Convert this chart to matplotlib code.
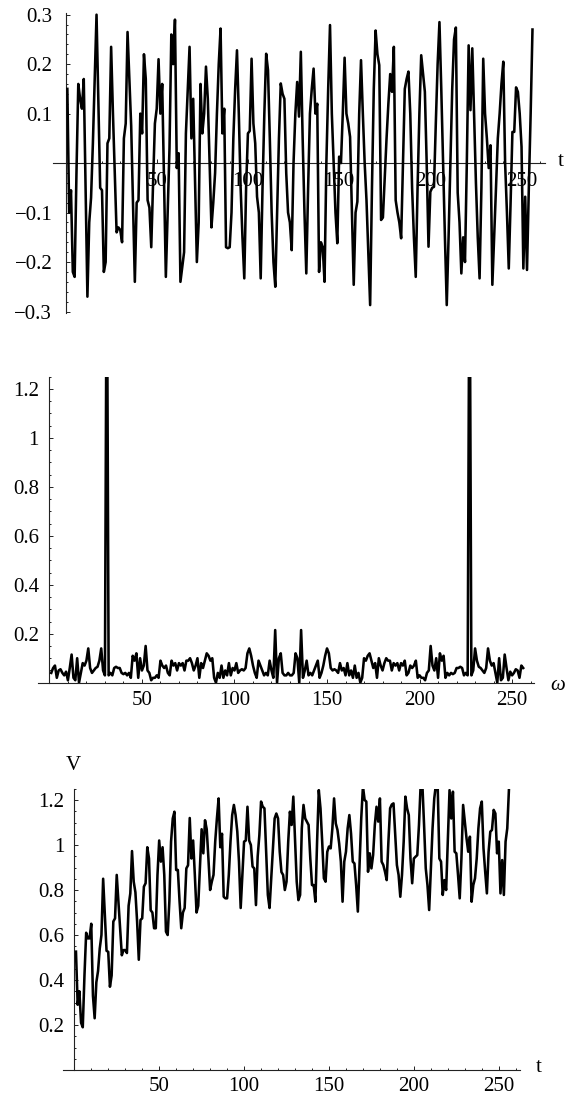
import matplotlib
matplotlib.use("Agg")
import matplotlib.pyplot as plt
from matplotlib.ticker import MultipleLocator

plt.rcParams['font.family'] = ['Liberation Serif', 'DejaVu Serif']

# ---------------- data ----------------
# panel 1: signal x(t), t = 1..256
signal = [
    0.15, -0.10, -0.055, -0.22, -0.23, -0.02, 0.16, 0.13, 0.11, 0.17,
    -0.05, -0.27, -0.12, -0.07, 0.04, 0.17, 0.30, 0.12, -0.05, -0.055,
    -0.22, -0.20, 0.04, 0.05, 0.235, 0.10, -0.02, -0.14, -0.13, -0.135,
    -0.16, 0.05, 0.08, 0.265, 0.17, 0.075, -0.08, -0.24, -0.08, -0.075,
    0.10, 0.06, 0.22, 0.17, -0.075, -0.09, -0.17, -0.04, 0.08, 0.11,
    0.21, 0.10, 0.16, -0.03, -0.23, -0.10, 0.03, 0.26, 0.20, 0.29,
    -0.01, 0.02, -0.24, -0.21, -0.18, 0.06, 0.15, 0.235, 0.05, 0.13,
    -0.04, -0.20, -0.12, 0.16, 0.06, 0.10, 0.195, 0.13, 0.0, -0.13,
    -0.08, -0.02, 0.10, 0.20, 0.272, 0.06, 0.11, -0.17, -0.172, -0.17,
    -0.10, 0.05, 0.15, 0.228, 0.10, -0.05, -0.15, -0.233, -0.05, 0.06,
    0.065, 0.211, 0.08, 0.04, -0.068, -0.10, -0.233, -0.05, 0.10, 0.221,
    0.188, 0.05, -0.10, -0.20, -0.25, -0.10, 0.05, 0.161, 0.14, 0.13,
    -0.02, -0.10, -0.12, -0.176, 0.0, 0.10, 0.164, 0.094, 0.225, 0.05,
    -0.10, -0.223, -0.05, 0.10, 0.15, 0.191, 0.10, 0.12, -0.22, -0.16,
    -0.17, -0.24, 0.0, 0.15, 0.279, 0.10, 0.0, -0.10, -0.162, 0.013,
    0.0, 0.10, 0.213, 0.10, 0.08, 0.053, -0.10, -0.246, -0.10, -0.078,
    0.10, 0.208, 0.10, 0.0, -0.075, -0.18, -0.287, -0.05, 0.15, 0.268,
    0.22, 0.198, -0.115, -0.11, -0.03, 0.05, 0.12, 0.18, 0.144, 0.235,
    -0.075, -0.10, -0.12, -0.152, 0.0, 0.15, 0.17, 0.185, 0.10, -0.05,
    -0.15, -0.23, -0.05, 0.10, 0.218, 0.18, 0.144, 0.0, -0.169, -0.058,
    -0.05, -0.048, 0.08, 0.20, 0.285, 0.15, 0.0, -0.15, -0.287, -0.15,
    0.0, 0.15, 0.25, 0.274, -0.06, -0.12, -0.223, -0.15, -0.20, 0.0,
    0.238, 0.107, 0.232, 0.10, -0.04, -0.15, -0.233, -0.05, 0.211, 0.10,
    0.05, -0.01, 0.036, -0.246, -0.15, -0.05, 0.05, 0.10, 0.16, 0.205,
    0.0, -0.10, -0.213, -0.08, 0.063, 0.063, 0.153, 0.144, 0.10, 0.033,
    -0.213, -0.068, -0.216, -0.05, 0.10, 0.27,
]

# panel 2: spectrum magnitude, omega = 1..129 and 130..256
spec_low = [
    0.04, 0.06, 0.07, 0.02, 0.05, 0.055, 0.04, 0.03, 0.045, 0.01,
    0.06, 0.115, 0.02, 0.01, 0.10, 0.0, 0.04, 0.08, 0.07, 0.09,
    0.14, 0.06, 0.04, 0.05, 0.06, 0.065, 0.09, 0.14, 0.05, 0.03,
    1.9, 0.03, 0.04, 0.03, 0.06, 0.065, 0.06, 0.06, 0.04, 0.035,
    0.04, 0.03, 0.04, 0.02, 0.11, 0.09, 0.12, 0.02, 0.10, 0.05,
    0.07, 0.15, 0.05, 0.04, 0.01, 0.02, 0.02, 0.03, 0.02, 0.09,
    0.07, 0.06, 0.07, 0.04, 0.03, 0.09, 0.07, 0.08, 0.05, 0.08,
    0.07, 0.08, 0.05, 0.09, 0.09, 0.10, 0.08, 0.05, 0.07, 0.10,
    0.02, 0.08, 0.06, 0.09, 0.12, 0.11, 0.09, 0.10, 0.02, 0.0,
    0.04, 0.02, 0.07, 0.02, 0.05, 0.03, 0.08, 0.03, 0.06, 0.05,
    0.08, 0.04, 0.05, 0.055, 0.05, 0.06, 0.12, 0.14, 0.11, 0.07,
    0.04, 0.02, 0.09, 0.07, 0.05, 0.03, 0.04, 0.03, 0.09, 0.05,
    0.02, 0.215, 0.0, 0.10, 0.12, 0.04, 0.03, 0.03, 0.04,
]
spec_high = [
    0.03, 0.03, 0.04, 0.12, 0.10, 0.0, 0.215, 0.02, 0.05, 0.09,
    0.03, 0.04, 0.03, 0.05, 0.07, 0.09, 0.02, 0.04, 0.07, 0.11,
    0.14, 0.12, 0.06, 0.05, 0.055, 0.05, 0.04, 0.08, 0.05, 0.06,
    0.03, 0.08, 0.03, 0.05, 0.02, 0.07, 0.02, 0.04, 0.0, 0.02,
    0.10, 0.09, 0.11, 0.12, 0.09, 0.06, 0.08, 0.02, 0.10, 0.07,
    0.05, 0.08, 0.10, 0.09, 0.09, 0.05, 0.08, 0.07, 0.08, 0.05,
    0.08, 0.07, 0.09, 0.03, 0.04, 0.07, 0.06, 0.07, 0.09, 0.02,
    0.03, 0.02, 0.02, 0.01, 0.04, 0.05, 0.15, 0.07, 0.05, 0.10,
    0.02, 0.12, 0.09, 0.11, 0.02, 0.04, 0.03, 0.04, 0.035, 0.04,
    0.06, 0.06, 0.065, 0.06, 0.03, 0.04, 0.03, 1.9, 0.03, 0.05,
    0.14, 0.09, 0.065, 0.06, 0.05, 0.04, 0.06, 0.14, 0.09, 0.07,
    0.08, 0.04, 0.0, 0.10, 0.01, 0.02, 0.115, 0.06, 0.01, 0.045,
    0.03, 0.04, 0.055, 0.05, 0.02, 0.07, 0.06,
]

# panel 3: V(t), t = 1..256
volt = [
    0.526, 0.29, 0.35, 0.21, 0.19, 0.42, 0.61, 0.585, 0.585, 0.65,
    0.33, 0.23, 0.39, 0.44, 0.54, 0.60, 0.85, 0.69, 0.53, 0.525,
    0.37, 0.42, 0.66, 0.674, 0.867, 0.75, 0.63, 0.51, 0.533, 0.533,
    0.52, 0.73, 0.785, 0.973, 0.837, 0.79, 0.66, 0.49, 0.667, 0.674,
    0.815, 0.83, 0.99, 0.94, 0.71, 0.70, 0.63, 0.63, 0.867, 1.02,
    0.926, 0.99, 0.867, 0.615, 0.60, 0.75, 1.015, 1.118, 1.148, 0.889,
    0.889, 0.75, 0.63, 0.70, 0.72, 0.896, 0.91, 1.12, 0.94, 1.02,
    0.867, 0.70, 0.73, 0.90, 1.07, 0.963, 1.11, 1.07, 0.94, 0.80,
    0.837, 0.867, 1.015, 1.118, 1.207, 0.99, 1.05, 0.77, 0.763, 0.763,
    0.867, 1.015, 1.133, 1.178, 1.133, 1.06, 0.926, 0.72, 0.867, 1.015,
    1.02, 1.17, 1.02, 1.0, 0.904, 0.896, 0.733, 0.948, 1.044, 1.193,
    1.17, 1.163, 0.97, 0.778, 0.72, 0.852, 0.985, 1.118, 1.14, 1.118,
    0.97, 0.88, 0.867, 0.80, 0.837, 1.015, 1.148, 1.089, 1.215, 1.03,
    0.837, 0.755, 0.778, 1.074, 1.178, 1.118, 1.104, 1.089, 0.94, 0.822,
    0.822, 0.748, 1.015, 1.244, 1.163, 1.015, 0.852, 0.837, 0.97, 0.993,
    0.985, 1.074, 1.207, 1.096, 1.067, 1.007, 0.926, 0.748, 0.926, 0.97,
    1.074, 1.133, 1.05, 0.926, 0.918, 0.822, 0.704, 0.911, 1.118, 1.26,
    1.2, 1.193, 0.881, 0.963, 0.896, 0.956, 1.089, 1.17, 1.104, 1.207,
    0.926, 0.911, 0.881, 0.844, 1.015, 1.163, 1.18, 1.185, 1.05, 0.911,
    0.867, 0.77, 0.867, 1.015, 1.215, 1.163, 1.133, 0.94, 0.83, 0.94,
    0.948, 0.955, 1.089, 1.27, 1.27, 1.089, 0.896, 0.822, 0.711, 0.896,
    1.074, 1.207, 1.27, 1.27, 0.94, 0.926, 0.778, 0.844, 0.80, 1.015,
    1.244, 1.118, 1.237, 0.97, 0.963, 0.867, 0.763, 0.94, 1.178, 1.104,
    1.03, 0.97, 1.037, 0.748, 0.822, 0.852, 0.94, 1.074, 1.163, 1.193,
    0.985, 0.881, 0.785, 0.97, 1.059, 1.067, 1.156, 1.14, 0.963, 1.015,
    0.785, 0.933, 0.778, 1.015, 1.074, 1.25,
]

time_idx = list(range(1, len(signal) + 1))
spectrum = spec_low + spec_high
omega_idx = list(range(1, len(spectrum) + 1))
volt_idx = list(range(1, len(volt) + 1))

x_ticks = [50, 100, 150, 200, 250]
x_tick_labels = ["50", "100", "150", "200", "250"]
y1_ticks = [-0.3, -0.2, -0.1, 0.1, 0.2, 0.3]
y1_tick_labels = ["\u22120.3", "\u22120.2", "\u22120.1", "0.1", "0.2", "0.3"]
y23_ticks = [0.2, 0.4, 0.6, 0.8, 1.0, 1.2]
y23_tick_labels = ["0.2", "0.4", "0.6", "0.8", "1", "1.2"]

# ---------------- figure ----------------
W, H = 566, 1100
fig = plt.figure(figsize=(W / 100, H / 100), dpi=100)

FS = 15
LW = 1.85


def style(ax, ypad, xpad, yminor):
    for s in ("top", "right"):
        ax.spines[s].set_visible(False)
    ax.spines["left"].set_position(("data", 0))
    ax.spines["bottom"].set_position(("data", 0))
    for s in ("left", "bottom"):
        ax.spines[s].set_linewidth(0.8)
        ax.spines[s].set_color("#222222")
    ax.xaxis.set_minor_locator(MultipleLocator(10))
    ax.yaxis.set_minor_locator(MultipleLocator(yminor))
    ax.tick_params(which="both", direction="in", color="#222222", width=0.7)
    ax.tick_params(which="major", length=3.0)
    ax.tick_params(which="minor", length=1.7)
    ax.tick_params(axis="y", which="major", pad=ypad, labelsize=FS)
    ax.tick_params(axis="x", which="major", pad=xpad, labelsize=FS)
    ax.patch.set_visible(False)


# panel 1
ax1 = fig.add_axes([53.3 / W, 1 - 313 / H, 491.4 / W, 300.3 / H])
ax1.plot(time_idx, signal, color="black", lw=LW, zorder=3)
ax1.set_xlim(-6.7, 262.7)
ax1.set_ylim(-0.303, 0.304)
ax1.set_xticks(x_ticks, labels=x_tick_labels)
ax1.set_yticks(y1_ticks, labels=y1_tick_labels)
style(ax1, ypad=9.5, xpad=6.5, yminor=0.02)
fig.text(561 / W, 1 - 162 / H, "t", fontsize=FS, ha="center", va="center")

# panel 2
ax2 = fig.add_axes([38.3 / W, 1 - 682.7 / H, 496 / W, 306 / H])
ax2.plot(omega_idx, spectrum, color="black", lw=LW, zorder=3)
ax2.set_xlim(-6, 262)
ax2.set_ylim(0, 1.25)
ax2.set_xticks(x_ticks, labels=x_tick_labels)
ax2.set_yticks(y23_ticks, labels=y23_tick_labels)
style(ax2, ypad=7.5, xpad=6.0, yminor=0.05)
fig.text(557.7 / W, 1 - 686 / H, "\u03c9", fontsize=FS, style="italic",
         ha="center", va="center")

# panel 3
ax3 = fig.add_axes([62.9 / W, 1 - 1070 / H, 457.1 / W, 281.25 / H])
ax3.plot(volt_idx, volt, color="black", lw=LW, zorder=3)
ax3.set_xlim(-6.7, 262.5)
ax3.set_ylim(0, 1.25)
ax3.set_xticks(x_ticks, labels=x_tick_labels)
ax3.set_yticks(y23_ticks, labels=y23_tick_labels)
style(ax3, ypad=7.2, xpad=5.0, yminor=0.05)
fig.text(73 / W, 1 - 766 / H, "V", fontsize=FS, ha="center", va="center")
fig.text(539 / W, 1 - 1067 / H, "t", fontsize=FS, ha="center", va="center")

fig.savefig("out.png", dpi=100)
